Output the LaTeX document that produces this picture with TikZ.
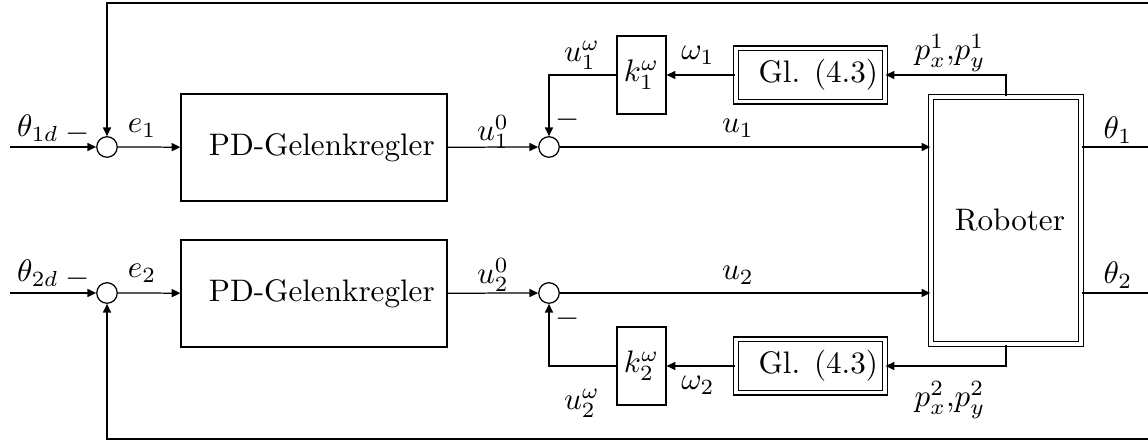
\documentclass[tikz,border=0pt]{standalone}
\usetikzlibrary{arrows.meta}
\begin{document}
\begin{tikzpicture}[x=0.3215pt,y=-0.3215pt,
  line width=0.4pt,
  >={Triangle[length=2.8pt,width=2.6pt]},
  blk/.style={draw,rectangle,inner sep=0pt},
  dbl/.style={draw,double,double distance=1.1pt,rectangle,inner sep=0pt},
  sumnode/.style={draw,circle,minimum size=6.6pt,inner sep=0pt},
  lbl/.style={inner sep=0pt}]
\useasboundingbox (0,0) rectangle (1148,442);
% summing points
\node[sumnode] (s1) at (107,147) {};
\node[sumnode] (s2) at (549,147) {};
\node[sumnode] (s3) at (107,293) {};
\node[sumnode] (s4) at (549,293) {};
% blocks
\node[blk,minimum width=85.5pt,minimum height=34.4pt] (pd1) at (314,147.5) {\hspace*{5pt}PD-Gelenkregler};
\node[blk,minimum width=85.5pt,minimum height=34.4pt] (pd2) at (314,293.5) {\hspace*{5pt}PD-Gelenkregler};
\node[blk,minimum width=15.75pt,minimum height=25.1pt] (k1) at (641.5,75) {$k_1^\omega$};
\node[blk,minimum width=15.75pt,minimum height=25.1pt] (k2) at (641.5,366) {$k_2^\omega$};
\node[dbl,minimum width=47.9pt,minimum height=17.1pt] (g1) at (810.5,75) {\hspace*{5pt}Gl. (4.3)};
\node[dbl,minimum width=47.9pt,minimum height=17.1pt] (g2) at (810.5,366) {\hspace*{5pt}Gl. (4.3)};
\node[dbl,minimum width=48.3pt,minimum height=79.4pt] (rob) at (1006,220.5) {\hspace*{2.5pt}Roboter};
% free ends
\coordinate (in1) at (10,147);
\coordinate (in2) at (10,293);
\coordinate (o1) at (1148,147);
\coordinate (o2) at (1148,293);
\coordinate (t1) at (1148,3);
\coordinate (b1) at (1148,439);
% connectors
\draw[->] (in1) -- (s1);
\draw[->] (s1) -- (pd1);
\draw[->] (pd1) -- (s2);
\draw[->] (s2) -- (s2 -| rob.west);
\draw (s2 -| rob.east) -- (o1);
\draw[->] (t1) -| (s1);
\draw[->] (g1) -- (k1);
\draw[->] (k1) -| (s2);
\draw[->] (rob.north) |- (g1);
\draw[->] (in2) -- (s3);
\draw[->] (s3) -- (pd2);
\draw[->] (pd2) -- (s4);
\draw[->] (s4) -- (s4 -| rob.west);
\draw (s4 -| rob.east) -- (o2);
\draw[->] (b1) -| (s3);
\draw[->] (g2) -- (k2);
\draw[->] (k2) -| (s4);
\draw[->] (rob.south) |- (g2);
% labels
\node[lbl] (l1) at (38,128) {$\theta_{1d}$};
\node[lbl] (m1) at (78,134) {$-$};
\node[lbl] (le1) at (142,128) {$e_1$};
\node[lbl] (lu10) at (493,132) {$u_1^0$};
\node[lbl] (lu1w) at (582,55) {$u_1^\omega$};
\node[lbl] (m2) at (568,120) {$-$};
\node[lbl] (lw1) at (698,55) {$\omega_1$};
\node[lbl] (lu1) at (738,128) {$u_1$};
\node[lbl] (lp1) at (950,53) {$p_x^1$,$p_y^1$};
\node[lbl] (lt1) at (1118,130) {$\theta_1$};
\node[lbl] (l2) at (38,273) {$\theta_{2d}$};
\node[lbl] (m3) at (78,279) {$-$};
\node[lbl] (le2) at (142,273) {$e_2$};
\node[lbl] (lu20) at (493,275) {$u_2^0$};
\node[lbl] (lu2) at (738,275) {$u_2$};
\node[lbl] (m4) at (568,319) {$-$};
\node[lbl] (lu2w) at (582,403) {$u_2^\omega$};
\node[lbl] (lw2) at (698,385) {$\omega_2$};
\node[lbl] (lp2) at (950,400) {$p_x^2$,$p_y^2$};
\node[lbl] (lt2) at (1118,275) {$\theta_2$};
\end{tikzpicture}
\end{document}
